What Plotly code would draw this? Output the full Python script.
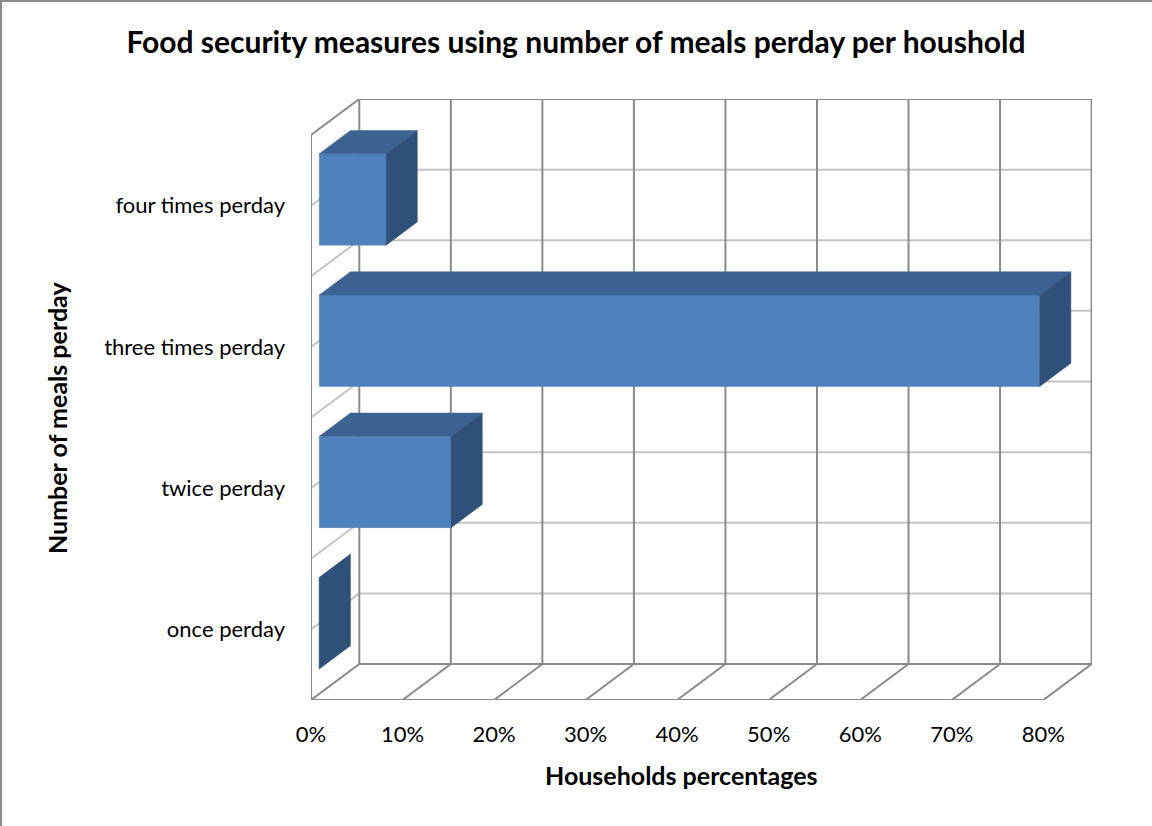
import plotly.graph_objects as go

# ---- data ----
categories = ["once perday", "twice perday", "three times perday", "four times perday"]
values = [0.0, 14.4, 78.7, 7.3]          # households percentages
tick_values = [0, 10, 20, 30, 40, 50, 60, 70, 80]
tick_labels = ["0%", "10%", "20%", "30%", "40%", "50%", "60%", "70%", "80%"]

title = "Food security measures using number of meals perday per houshold"
x_title = "Households percentages"
y_title = "Number of meals perday"

# ---- 3D oblique projection settings (styling) ----
W, H = 1152, 826
ML, MR, MT, MB = 311, 60, 99, 126
PX_PER_PCT = (1043.3 - 311) / 80.0
PX_PER_CAT = 141.25
DX = 48.3 / PX_PER_PCT        # depth offset in x (percent units)
DY = 36.0 / PX_PER_CAT        # depth offset in y (category units)
F1, F2 = 0.172, 0.817         # bar depth fractions
HALF = 0.3235                 # half bar thickness (category units)

FRONT = "#4F81BD"
TOP = "#3C6292"
SIDE = "#30507A"
DARK = "#8a8a8a"
LIGHT = "#c4c4c4"

plot_w = W - ML - MR
plot_h = H - MT - MB
xmax = plot_w / PX_PER_PCT
ymax = plot_h / PX_PER_CAT
ncat = len(categories)

fig = go.Figure()

def add_lines(segs, color, width):
    xs, ys = [], []
    for (xa, ya, xb, yb) in segs:
        xs += [xa, xb, None]
        ys += [ya, yb, None]
    fig.add_trace(go.Scatter(x=xs, y=ys, mode="lines", line=dict(color=color, width=width),
                             hoverinfo="skip", showlegend=False))

# back wall horizontal lines (every half category) and side wall diagonals
halves = [k * 0.5 for k in range(2 * ncat + 1)]
add_lines([(DX, h + DY, tick_values[-1] + DX, h + DY) for h in halves[1:-1]], LIGHT, 2)
add_lines([(0, h, DX, h + DY) for h in halves[1:-1]], LIGHT, 2)
# back wall verticals, floor diagonals, edges
segs = [(v + DX, DY, v + DX, ncat + DY) for v in tick_values]
segs += [(v, 0, v + DX, DY) for v in tick_values]
segs += [(0, 0, tick_values[-1], 0), (0, 0, 0, ncat), (0, ncat, DX, ncat + DY),
         (DX, ncat + DY, tick_values[-1] + DX, ncat + DY), (DX, DY, tick_values[-1] + DX, DY)]
add_lines(segs, DARK, 2)

# bars
for i, v in enumerate(values):
    c = i + 0.5
    y0, y1 = c - HALF, c + HALF
    a1x, a1y = F1 * DX, F1 * DY
    a2x, a2y = F2 * DX, F2 * DY
    faces = [
        ([a1x, v + a1x, v + a1x, a1x, a1x], [y0 + a1y, y0 + a1y, y1 + a1y, y1 + a1y, y0 + a1y], FRONT),
        ([a1x, a2x, v + a2x, v + a1x, a1x], [y1 + a1y, y1 + a2y, y1 + a2y, y1 + a1y, y1 + a1y], TOP),
        ([v + a1x, v + a2x, v + a2x, v + a1x, v + a1x], [y0 + a1y, y0 + a2y, y1 + a2y, y1 + a1y, y0 + a1y], SIDE),
    ]
    for fx, fy, col in faces:
        fig.add_trace(go.Scatter(x=fx, y=fy, mode="lines", fill="toself", fillcolor=col,
                                 line=dict(color=col, width=0.5), hoverinfo="skip",
                                 showlegend=False, name=categories[i]))

FONT = "Lato, 'Open Sans', sans-serif"

fig.update_layout(
    width=W, height=H, autosize=False,
    margin=dict(l=ML, r=MR, t=MT, b=MB, pad=0),
    paper_bgcolor="white", plot_bgcolor="white",
    font=dict(family=FONT, color="black"),
    title=dict(text="<b>" + title + "</b>", x=0.5, xanchor="center", y=1 - 42 / H, yanchor="middle",
               font=dict(size=30, family=FONT, color="black")),
    xaxis=dict(range=[0, xmax], tickvals=tick_values, ticktext=tick_labels, showgrid=False,
               zeroline=False, showline=False, ticks="", ticklabelstandoff=19,
               tickfont=dict(size=22, family=FONT, color="black"), fixedrange=True),
    yaxis=dict(range=[0, ymax], tickvals=[k + 0.5 for k in range(ncat)], ticktext=categories,
               showgrid=False, zeroline=False, showline=False, ticks="", ticklabelstandoff=25,
               tickfont=dict(size=22, family=FONT, color="black"), fixedrange=True),
    showlegend=False,
)

# axis titles
fig.add_annotation(text="<b>" + x_title + "</b>", xref="paper", yref="paper",
                   x=(681 - ML) / plot_w, y=-(775 - (H - MB)) / plot_h, xanchor="center", yanchor="middle",
                   showarrow=False, font=dict(size=25, family=FONT, color="black"))
fig.add_annotation(text="<b>" + y_title + "</b>", xref="paper", yref="paper", textangle=-90,
                   x=(57 - ML) / plot_w, y=((H - MB) - 418) / plot_h, xanchor="center", yanchor="middle",
                   showarrow=False, font=dict(size=25, family=FONT, color="black"))

# chart-area border (left and top edges)
fig.add_shape(type="line", xref="paper", yref="paper", x0=(1 - ML) / plot_w, x1=(1 - ML) / plot_w,
              y0=-(MB) / plot_h, y1=(H - MB) / plot_h, line=dict(color="#8c8c8c", width=2))
fig.add_shape(type="line", xref="paper", yref="paper", x0=-ML / plot_w, x1=(W - ML) / plot_w,
              y0=((H - MB) - 1) / plot_h, y1=((H - MB) - 1) / plot_h, line=dict(color="#8c8c8c", width=2))

fig.write_html("out.html")
